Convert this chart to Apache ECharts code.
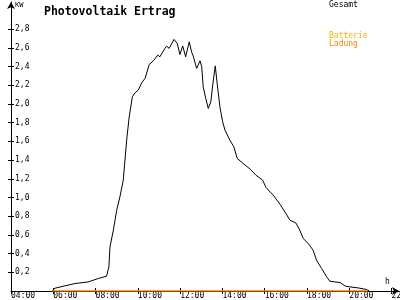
<!DOCTYPE html>
<html>
<head>
<meta charset="utf-8">
<script src="https://cdn.jsdelivr.net/npm/echarts@6/dist/echarts.min.js"></script>
<style>html,body{margin:0;padding:0;background:#fff;}#c{width:400px;height:300px;}</style>
</head>
<body>
<div id="c"></div>
<script>
var hours = [5.94,6.08,6.55,7.03,7.65,8.13,8.52,8.63,8.68,8.84,9.0,9.15,9.31,9.47,9.59,9.74,9.86,10.02,10.18,10.34,10.54,10.73,10.94,11.04,11.12,11.28,11.36,11.48,11.71,11.79,11.86,11.99,12.12,12.26,12.34,12.43,12.54,12.62,12.78,12.86,12.94,13.02,13.09,13.21,13.33,13.45,13.54,13.66,13.75,13.88,14.01,14.12,14.35,14.54,14.70,14.98,15.33,15.58,15.9,16.06,16.40,16.72,17.0,17.19,17.47,17.66,17.82,18.06,18.29,18.45,18.69,18.93,19.08,19.32,19.56,19.64,19.82,20.03,20.42,20.82,20.94];
var gesamtKW = [0,0.03,0.055,0.08,0.097,0.134,0.158,0.258,0.47,0.65,0.864,1.006,1.185,1.613,1.862,2.076,2.119,2.148,2.226,2.273,2.422,2.461,2.522,2.504,2.487,2.594,2.618,2.594,2.69,2.707,2.647,2.529,2.621,2.504,2.522,2.664,2.557,2.511,2.38,2.386,2.461,2.397,2.183,2.059,1.952,2.022,2.201,2.407,2.219,1.969,1.809,1.72,1.613,1.541,1.417,1.364,1.299,1.239,1.185,1.107,1.025,0.928,0.829,0.757,0.728,0.65,0.561,0.508,0.436,0.329,0.241,0.151,0.105,0.097,0.091,0.097,0.051,0.044,0.033,0.016,0];
var ladungHours = [5.94, 20.88];
var ladungKW = [0, 0];
var xTicks = [4,6,8,10,12,14,16,18,20,22];
var yTicks = [0.2,0.4,0.6,0.8,1.0,1.2,1.4,1.6,1.8,2.0,2.2,2.4,2.6,2.8];
var seriesNames = ['Gesamt','Batterie','Ladung'];

var mono = 'DejaVu Sans Mono';
var chart = echarts.init(document.getElementById('c'), null, {renderer:'canvas'});
function pairs(xs, ys){ return xs.map(function(x,i){return [x, ys[i]];}); }
var xMin = 4, xMax = 22.35, yMin = 0, yMax = 3.09;
chart.setOption({
  animation: false,
  backgroundColor: '#ffffff',
  title: {text: 'Photovoltaik Ertrag', left: 39, top: 1, textStyle: {fontFamily: mono, fontWeight: 'bold', fontSize: 11.5, color: '#000'}},
  grid: {left: 11, right: 1, top: 2, bottom: 9, containLabel: false, outerBoundsMode: 'none'},
  xAxis: [{
    type: 'value', min: xMin, max: xMax, position: 'bottom',
    axisLine: {show: true, lineStyle: {color: '#000', width: 1}, symbol: ['none','arrow'], symbolSize: [6, 7]},
    axisTick: {show: true, inside: false, length: 3, customValues: xTicks, lineStyle: {color: '#000'}},
    axisLabel: {show: true, customValues: xTicks, align: 'left', margin: 1, hideOverlap: false, fontFamily: mono, fontSize: 8, color: '#000',
      formatter: function(v){ var h = Math.round(v); return (h<10?'0':'') + h + ':00'; }},
    splitLine: {show: false}
  },{
    type: 'value', min: xMin, max: xMax, position: 'bottom', gridIndex: 0,
    axisLine: {show: false},
    axisTick: {show: true, inside: true, length: 3, customValues: xTicks, lineStyle: {color: '#000'}},
    axisLabel: {show: false}, splitLine: {show: false}
  }],
  yAxis: [{
    type: 'value', min: yMin, max: yMax, position: 'left',
    axisLine: {show: true, lineStyle: {color: '#000', width: 1}, symbol: ['none','arrow'], symbolSize: [6, 7]},
    axisTick: {show: true, inside: false, length: 3, customValues: yTicks, lineStyle: {color: '#000'}},
    axisLabel: {show: true, inside: true, customValues: yTicks, margin: 4, fontFamily: mono, fontSize: 8, color: '#000',
      formatter: function(v){ return v.toFixed(1).replace('.', ','); }},
    splitLine: {show: false}
  },{
    type: 'value', min: yMin, max: yMax, position: 'left',
    axisLine: {show: false},
    axisTick: {show: true, inside: true, length: 3, customValues: yTicks, lineStyle: {color: '#000'}},
    axisLabel: {show: false}, splitLine: {show: false}
  }],
  graphic: [
    {type: 'text', left: 15, top: 2, style: {text: 'KW', font: '7px ' + mono, fill: '#000'}},
    {type: 'text', left: 385, top: 278, style: {text: 'h', font: '8px ' + mono, fill: '#000'}},
    {type: 'text', left: 329, top: 1, style: {text: seriesNames[0], font: '8px ' + mono, fill: '#000'}},
    {type: 'text', left: 329, top: 32, style: {text: seriesNames[1], font: '8px ' + mono, fill: '#ffb000'}},
    {type: 'text', left: 329, top: 40, style: {text: seriesNames[2], font: '8px ' + mono, fill: '#ff8000'}}
  ],
  series: [{
    name: 'Gesamt', type: 'line', xAxisIndex: 0, yAxisIndex: 0, data: pairs(hours, gesamtKW),
    showSymbol: false, symbol: 'none', lineStyle: {color: '#000', width: 1}, itemStyle: {color: '#000'}, z: 3
  },{
    name: 'Batterie Ladung', type: 'line', xAxisIndex: 0, yAxisIndex: 0, data: pairs(ladungHours, ladungKW),
    showSymbol: false, symbol: 'none', lineStyle: {color: '#ff8000', width: 1.5}, itemStyle: {color: '#ff8000'}, z: 4
  }]
});
</script>
</body>
</html>
